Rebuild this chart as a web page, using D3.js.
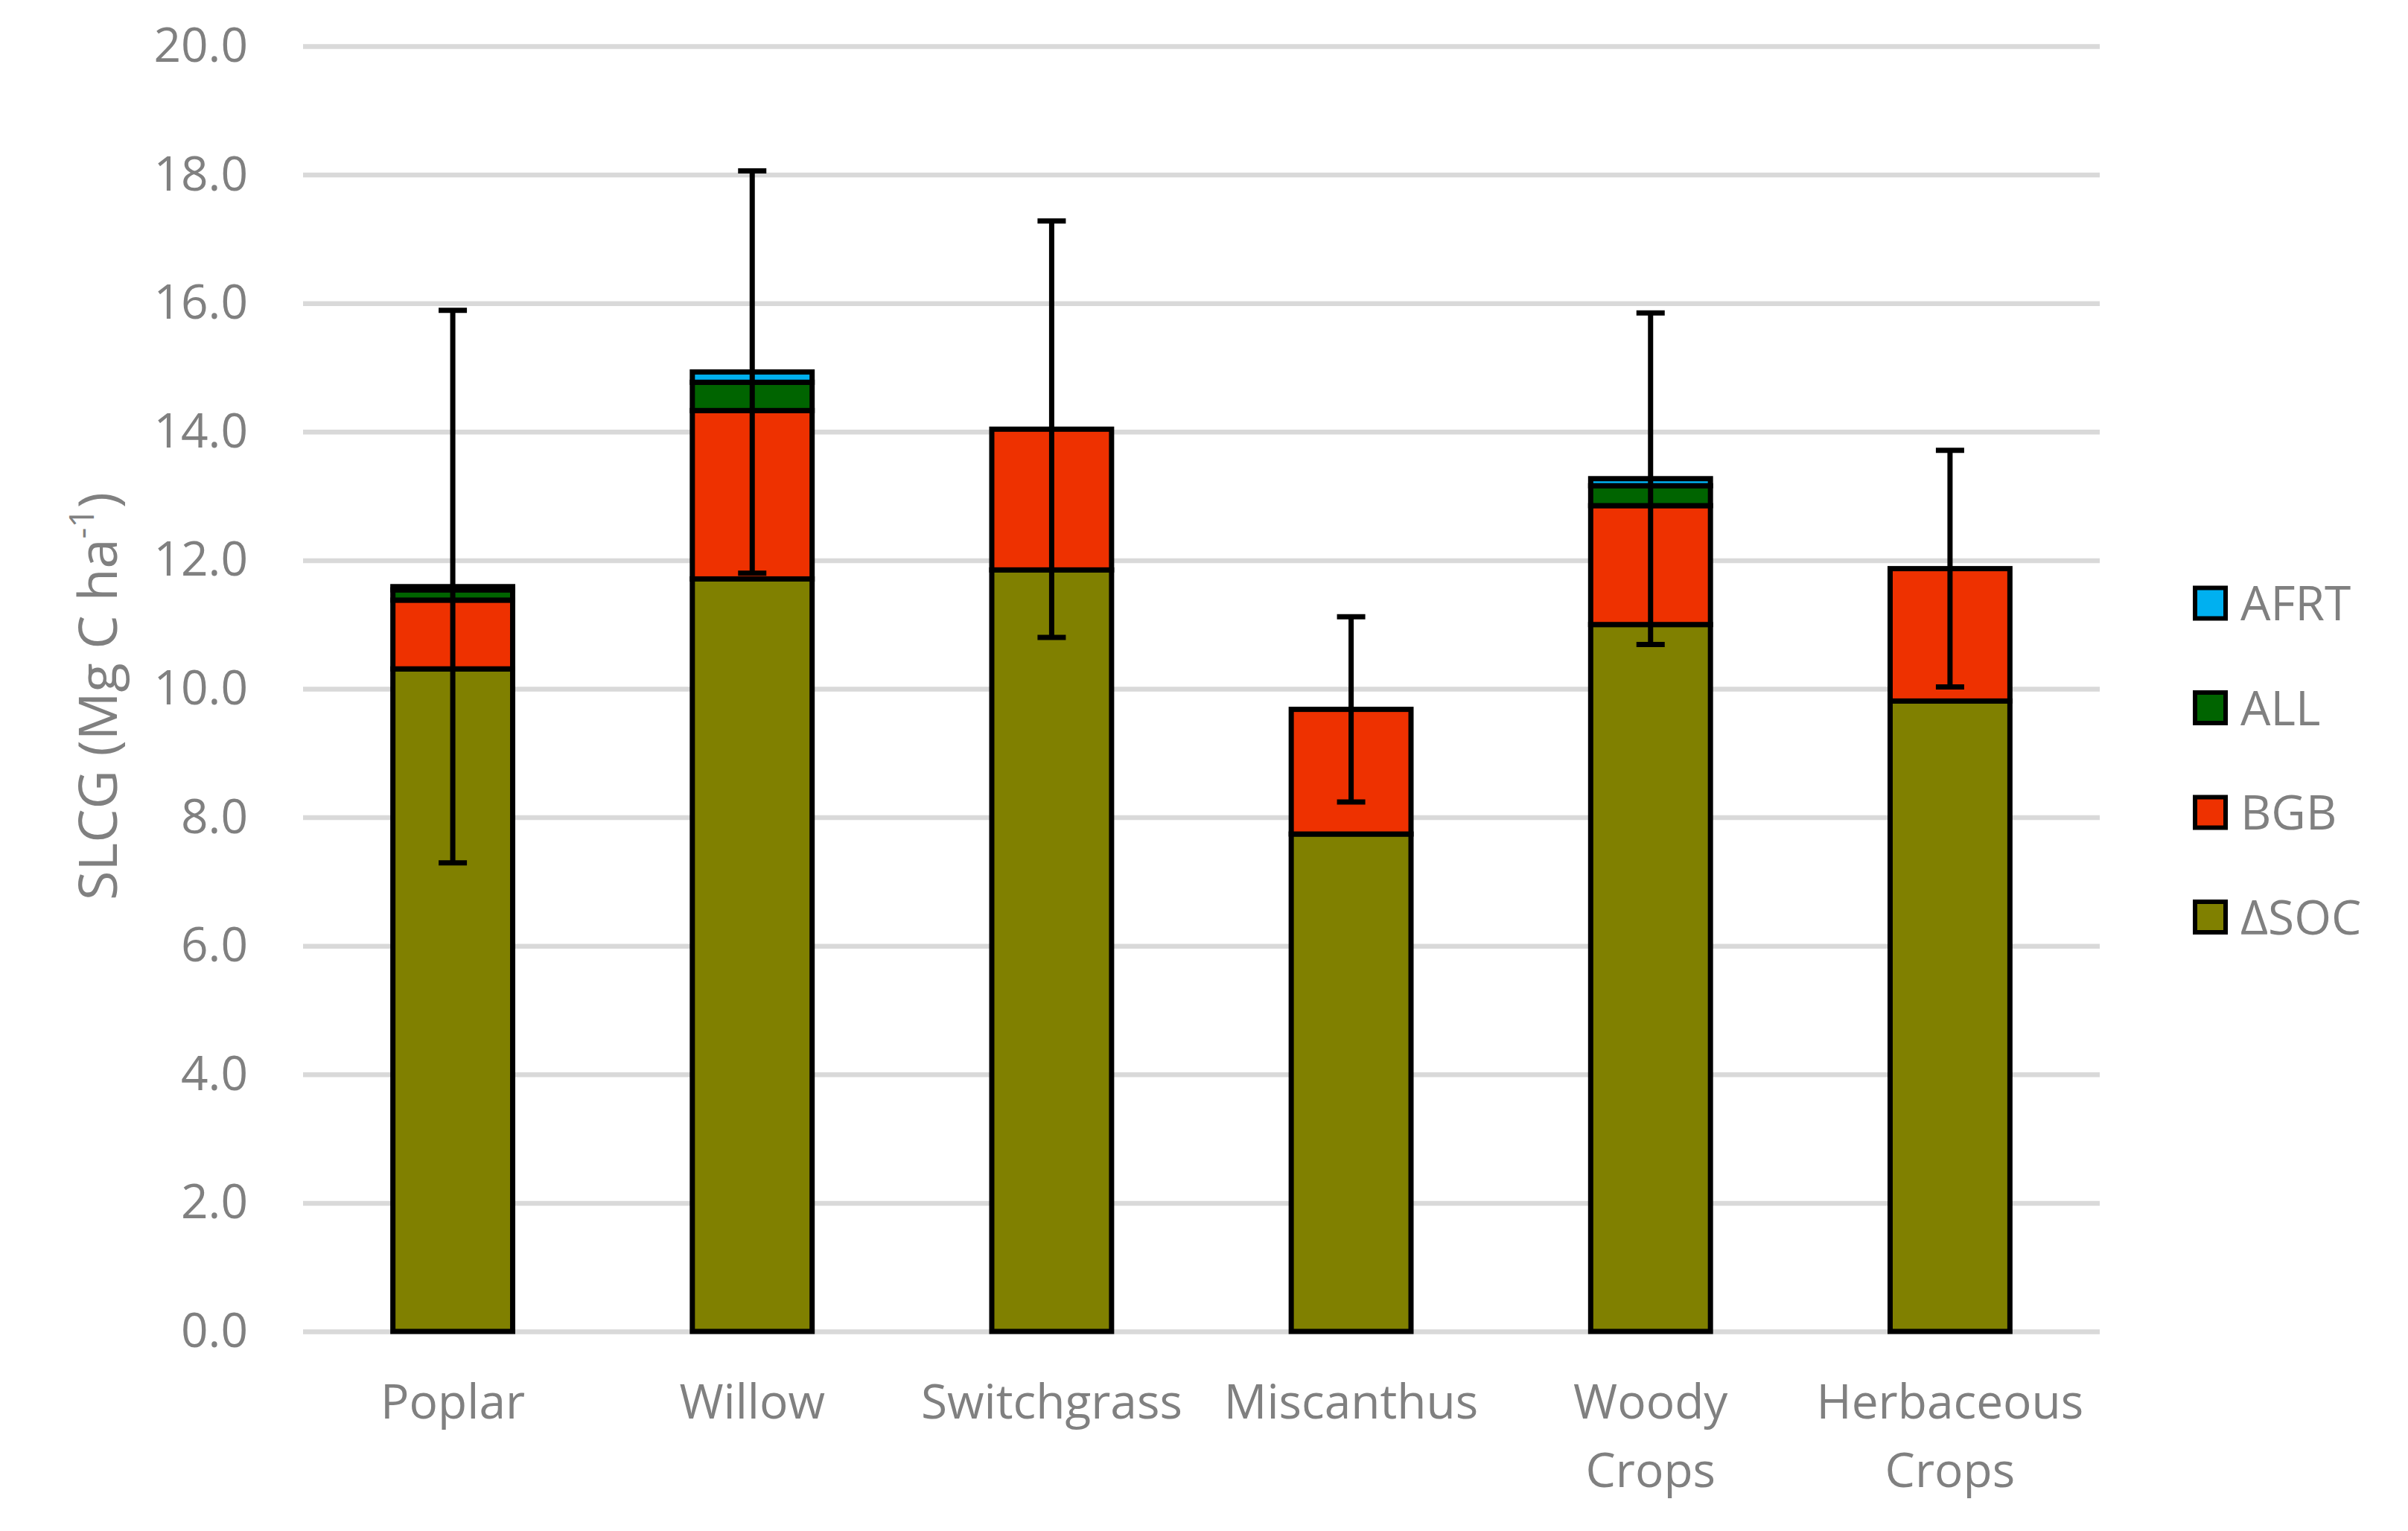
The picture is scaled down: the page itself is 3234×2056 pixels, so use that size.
<!DOCTYPE html>
<html>
<head>
<meta charset="utf-8">
<script src="https://cdn.jsdelivr.net/npm/d3@7"></script>
<style>
  body { margin: 0; background: #fff; }
  svg { display: block; }
</style>
</head>
<body>
<script>
// values (Mg C / ha)
var categories = ["Poplar", "Willow", "Switchgrass", "Miscanthus", "Woody Crops", "Herbaceous Crops"];
var tickLabels = [["Poplar"], ["Willow"], ["Switchgrass"], ["Miscanthus"], ["Woody", "Crops"], ["Herbaceous", "Crops"]];
var dSOC = [10.31, 11.71, 11.85, 7.74, 11.00, 9.81];
var BGB  = [1.07, 2.62, 2.19, 1.94, 1.85, 2.06];
var ALL  = [0.16, 0.44, 0, 0, 0.31, 0];
var AFRT = [0.05, 0.16, 0, 0, 0.11, 0];
var errs = [4.30, 3.13, 3.24, 1.44, 2.58, 1.84];
var yTicks = [0, 2, 4, 6, 8, 10, 12, 14, 16, 18, 20];

var keys = ["ΔSOC", "BGB", "ALL", "AFRT"];
var colors = { "ΔSOC": "#808000", "BGB": "#ee3100", "ALL": "#006400", "AFRT": "#00b0f0" };

var W = 3234, H = 2056;
// note: "top" is taken by window.top, so plot edges get their own names
var plotL = 407, plotR = 2820, plotT = 62, plotB = 1788;
var font = "'Open Sans', 'Noto Sans', sans-serif";
var grey = "#808080";

var table = categories.map(function(c, i) {
    return { cat: c, "ΔSOC": dSOC[i], "BGB": BGB[i], "ALL": ALL[i], "AFRT": AFRT[i], err: errs[i] };
});

var svg = d3.select("body").append("svg")
    .attr("width", W)
    .attr("height", H);

var x = d3.scaleBand()
    .domain(categories)
    .range([plotL, plotR])
    .paddingInner(0.6)
    .paddingOuter(0.3);

var y = d3.scaleLinear()
    .domain([0, 20])
    .range([plotB, plotT]);

// y axis + gridlines
var yAxis = svg.append("g")
    .attr("transform", "translate(" + plotL + ",0)")
    .call(d3.axisLeft(y)
        .tickValues(yTicks)
        .tickFormat(d3.format(".1f"))
        .tickSize(-(plotR - plotL))
        .tickPadding(74));
yAxis.select(".domain").remove();
yAxis.selectAll(".tick line")
    .attr("stroke", "#d9d9d9")
    .attr("stroke-width", 6.5);
yAxis.selectAll(".tick text")
    .attr("fill", grey)
    .style("font-family", font)
    .style("font-size", "64px");

// stacked bars
var series = d3.stack().keys(keys)(table);

svg.append("g")
    .selectAll("g")
    .data(series)
  .enter().append("g")
    .attr("fill", function(s) { return colors[s.key]; })
  .selectAll("rect")
    .data(function(s) { return s; })
  .enter().append("rect")
    .attr("x", function(d) { return x(d.data.cat); })
    .attr("y", function(d) { return y(d[1]); })
    .attr("width", x.bandwidth())
    .attr("height", function(d) { return y(d[0]) - y(d[1]); })
    .attr("stroke", "#000")
    .attr("stroke-width", 7);

// error bars on the stack total
var totals = table.map(function(d) { return d3.sum(keys, function(k) { return d[k]; }); });
var capW = 38;
var eb = svg.append("g")
    .selectAll("g")
    .data(table)
  .enter().append("g")
    .attr("stroke", "#000")
    .attr("stroke-width", 7);

eb.append("line")
    .attr("x1", function(d) { return x(d.cat) + x.bandwidth() / 2; })
    .attr("x2", function(d) { return x(d.cat) + x.bandwidth() / 2; })
    .attr("y1", function(d, i) { return y(totals[i] - d.err); })
    .attr("y2", function(d, i) { return y(totals[i] + d.err); });

[-1, 1].forEach(function(sgn) {
    eb.append("line")
        .attr("x1", function(d) { return x(d.cat) + x.bandwidth() / 2 - capW / 2; })
        .attr("x2", function(d) { return x(d.cat) + x.bandwidth() / 2 + capW / 2; })
        .attr("y1", function(d, i) { return y(totals[i] + sgn * d.err); })
        .attr("y2", function(d, i) { return y(totals[i] + sgn * d.err); });
});

// x axis labels
var xAxis = svg.append("g")
    .attr("transform", "translate(0," + plotB + ")")
    .call(d3.axisBottom(x).tickSize(0).tickPadding(0));
xAxis.select(".domain").remove();
xAxis.selectAll(".tick text")
    .attr("fill", grey)
    .attr("dy", null)
    .attr("y", 0)
    .style("font-family", font)
    .style("font-size", "64px")
    .each(function(c) {
        var t = d3.select(this).text(null);
        tickLabels[categories.indexOf(c)].forEach(function(line, j) {
            t.append("tspan")
                .attr("x", 0)
                .attr("y", 117 + j * 92)
                .text(line);
        });
    });

// y title
var title = svg.append("text")
    .attr("transform", "translate(157," + 935 + ") rotate(-90)")
    .attr("text-anchor", "middle")
    .attr("fill", grey)
    .style("font-family", font)
    .style("font-size", "72px")
    .text("SLCG (Mg C ha");
title.append("tspan")
    .attr("baseline-shift", "super")
    .style("font-size", "46px")
    .text("-1");
title.append("tspan").text(")");

// legend, top entry is the top of the stack
var legendKeys = keys.slice().reverse();
var legend = svg.append("g")
    .selectAll("g")
    .data(legendKeys)
  .enter().append("g")
    .attr("transform", function(d, i) { return "translate(2948," + (810 + i * 140.5) + ")"; });

legend.append("rect")
    .attr("x", 0)
    .attr("y", -20.5)
    .attr("width", 41)
    .attr("height", 41)
    .attr("fill", function(d) { return colors[d]; })
    .attr("stroke", "#000")
    .attr("stroke-width", 6);

legend.append("text")
    .attr("x", 61)
    .attr("y", 23)
    .attr("fill", grey)
    .style("font-family", font)
    .style("font-size", "64px")
    .text(function(d) { return d; });
</script>
</body>
</html>
